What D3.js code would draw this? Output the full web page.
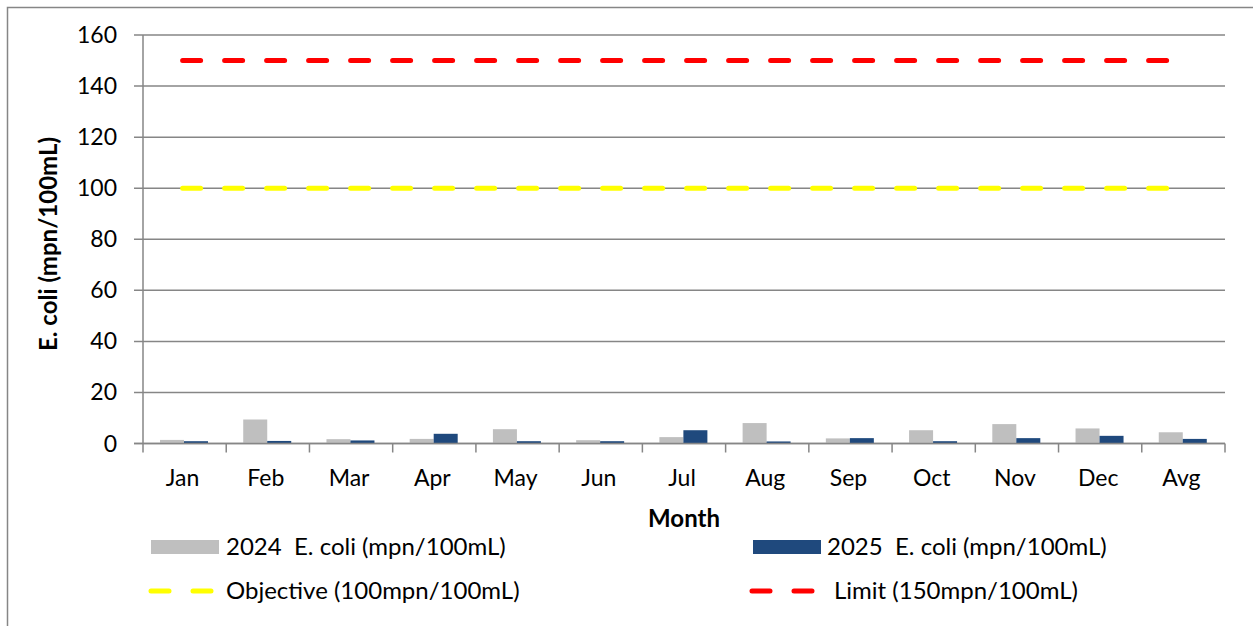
<!DOCTYPE html>
<html>
<head>
<meta charset="utf-8">
<script src="https://cdn.jsdelivr.net/npm/d3@7"></script>
<style>
  body { margin: 0; background: #fff; }
  text { font-family: Lato, "Open Sans", sans-serif; fill: #000; white-space: pre; }
</style>
</head>
<body>
<script>
var width = 1253,
    height = 626;

// data
var months = ["Jan", "Feb", "Mar", "Apr", "May", "Jun", "Jul", "Aug", "Sep", "Oct", "Nov", "Dec", "Avg"];
var ecoli2024 = [1.4, 9.4, 1.7, 1.8, 5.6, 1.3, 2.5, 8.0, 2.0, 5.2, 7.6, 5.9, 4.4];
var ecoli2025 = [0.9, 1.0, 1.2, 3.8, 0.9, 0.9, 5.2, 0.8, 2.1, 0.9, 2.1, 3.0, 1.8];
var objective = 100;
var limit = 150;
var yTicks = [0, 20, 40, 60, 80, 100, 120, 140, 160];

var margin = {left: 143, right: 28, top: 35, bottom: 182};
var fs = "23px";
var fsLeg = "24px";

var svg = d3.select("body")
    .append("svg")
    .attr("width", width)
    .attr("height", height);

// outer chart border (only top and left show in the crop)
svg.append("rect")
    .attr("x", 7.5).attr("y", 7.5)
    .attr("width", width + 20).attr("height", height + 20)
    .attr("fill", "none")
    .attr("stroke", "#868686")
    .attr("stroke-width", 1.5);

var x = d3.scaleBand()
    .domain(months)
    .range([margin.left, width - margin.right]);

var y = d3.scaleLinear()
    .domain([0, 160])
    .range([height - margin.bottom - 0.5, margin.top]);

var g = svg.append("g");

// gridlines
g.selectAll(".grid")
    .data(yTicks)
    .enter().append("line")
    .attr("x1", margin.left - 9)
    .attr("x2", width - margin.right)
    .attr("y1", d => y(d))
    .attr("y2", d => y(d))
    .attr("stroke", "#868686")
    .attr("stroke-width", 1.5);

// y axis line
g.append("line")
    .attr("x1", margin.left).attr("x2", margin.left)
    .attr("y1", y(160)).attr("y2", y(0))
    .attr("stroke", "#868686")
    .attr("stroke-width", 1.5);

// y tick labels
g.selectAll(".ylab")
    .data(yTicks)
    .enter().append("text")
    .attr("x", 117)
    .attr("y", d => y(d))
    .attr("dy", "0.35em")
    .attr("text-anchor", "end")
    .style("font-size", fs)
    .text(d => d);

// x ticks at band edges
var edges = months.map(m => x(m)).concat([width - margin.right]);
g.selectAll(".xtick")
    .data(edges)
    .enter().append("line")
    .attr("x1", d => d).attr("x2", d => d)
    .attr("y1", y(0)).attr("y2", y(0) + 9)
    .attr("stroke", "#868686")
    .attr("stroke-width", 1.5);

// x labels
g.selectAll(".xlab")
    .data(months)
    .enter().append("text")
    .attr("x", d => x(d) + x.bandwidth() / 2 - 2)
    .attr("y", 486)
    .attr("text-anchor", "middle")
    .style("font-size", fs)
    .text(d => d);

// bars
var barW = 24;
var off = 17;
g.selectAll(".b24")
    .data(months)
    .enter().append("rect")
    .attr("x", (d, i) => x(d) + off)
    .attr("y", (d, i) => y(ecoli2024[i]))
    .attr("width", barW)
    .attr("height", (d, i) => y(0) - y(ecoli2024[i]))
    .attr("fill", "#bfbfbf");

g.selectAll(".b25")
    .data(months)
    .enter().append("rect")
    .attr("x", (d, i) => x(d) + off + barW)
    .attr("y", (d, i) => y(ecoli2025[i]))
    .attr("width", barW)
    .attr("height", (d, i) => y(0) - y(ecoli2025[i]))
    .attr("fill", "#1f497d");

// redraw baseline over bars
g.append("line")
    .attr("x1", margin.left - 9).attr("x2", width - margin.right)
    .attr("y1", y(0)).attr("y2", y(0))
    .attr("stroke", "#868686")
    .attr("stroke-width", 1.5);

// dashed reference lines
var line = d3.line()
    .x(d => x(d[0]) + x.bandwidth() / 2 - 2)
    .y(d => y(d[1]));

function refLine(val, color) {
    g.append("path")
        .datum(months.map(m => [m, val]))
        .attr("d", line)
        .attr("fill", "none")
        .attr("stroke", color)
        .attr("stroke-width", 5)
        .attr("stroke-linecap", "round")
        .attr("stroke-dasharray", "18,24");
}
refLine(objective, "#ffff00");
refLine(limit, "#ff0000");

// axis titles
svg.append("text")
    .attr("transform", "translate(57,244) rotate(-90)")
    .attr("text-anchor", "middle")
    .style("font-size", fsLeg)
    .style("font-weight", "bold")
    .text("E. coli (mpn/100mL)");

svg.append("text")
    .attr("x", 684)
    .attr("y", 527)
    .attr("text-anchor", "middle")
    .style("font-size", fsLeg)
    .style("font-weight", "bold")
    .text("Month");

// legend
var legend = svg.append("g");
legend.append("rect").attr("x", 151).attr("y", 540).attr("width", 68).attr("height", 14).attr("fill", "#bfbfbf");
legend.append("text").attr("x", 226).attr("y", 547).attr("dy", "0.35em").style("font-size", fsLeg).text("2024  E. coli (mpn/100mL)");
legend.append("rect").attr("x", 753).attr("y", 540).attr("width", 68).attr("height", 14).attr("fill", "#1f497d");
legend.append("text").attr("x", 827).attr("y", 547).attr("dy", "0.35em").style("font-size", fsLeg).text("2025  E. coli (mpn/100mL)");

legend.append("line").attr("x1", 151).attr("x2", 215).attr("y1", 591).attr("y2", 591)
    .attr("stroke", "#ffff00").attr("stroke-width", 5).attr("stroke-linecap", "round").attr("stroke-dasharray", "18,24");
legend.append("text").attr("x", 226).attr("y", 591).attr("dy", "0.35em").style("font-size", fsLeg).text("Objective (100mpn/100mL)");
legend.append("line").attr("x1", 752).attr("x2", 816).attr("y1", 591).attr("y2", 591)
    .attr("stroke", "#ff0000").attr("stroke-width", 5).attr("stroke-linecap", "round").attr("stroke-dasharray", "18,24");
legend.append("text").attr("x", 834).attr("y", 591).attr("dy", "0.35em").style("font-size", fsLeg).text("Limit (150mpn/100mL)");
</script>
</body>
</html>
